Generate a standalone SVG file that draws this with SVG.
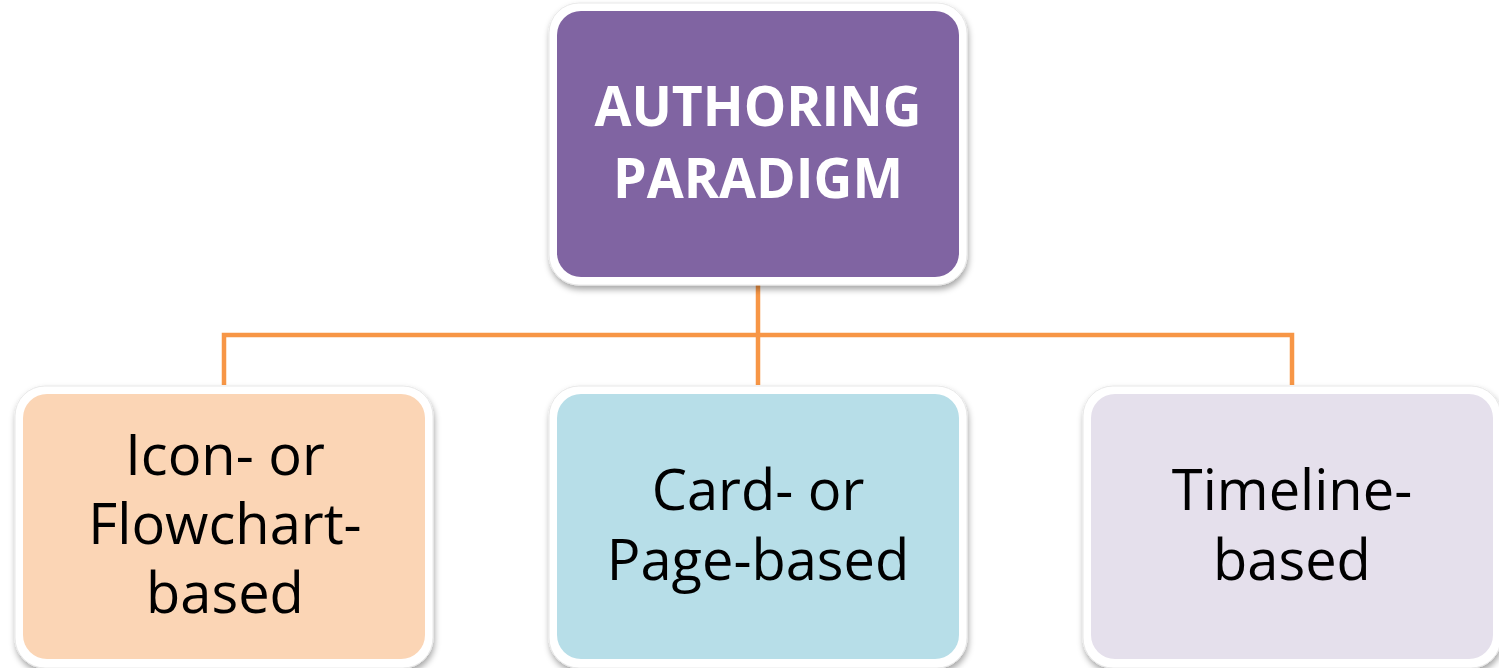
<svg xmlns="http://www.w3.org/2000/svg" width="1499" height="668" viewBox="0 0 1499 668">
<defs>
<filter id="sh" x="-10%" y="-10%" width="120%" height="125%">
<feDropShadow dx="1" dy="4" stdDeviation="3" flood-color="#000" flood-opacity="0.35"/>
</filter>
<style>
.frame{fill:#fff;stroke:#e8e8e8;stroke-width:1;filter:url(#sh)}
.conn{fill:none;stroke:#F79646;stroke-width:4.5}
.t{font-family:"Open Sans","Noto Sans","Liberation Sans",sans-serif;text-anchor:middle}
.top{fill:#fff;font-weight:bold;font-size:56px}
.sub{fill:#000;font-size:56px}
</style>
</defs>
<g id="connectors">
<path class="conn" d="M758 280 V385"/>
<path class="conn" d="M224 385 V335 H1292 V385"/>
</g>
<g id="root">
<rect class="frame" x="549" y="3" width="418" height="282" rx="30"/>
<rect x="557" y="11" width="402" height="266" rx="24" fill="#8064A2"/>
<text class="t top" x="758" y="126" textLength="327" lengthAdjust="spacingAndGlyphs">AUTHORING</text>
<text class="t top" x="758" y="198" textLength="290" lengthAdjust="spacingAndGlyphs">PARADIGM</text>
</g>
<g id="icon">
<rect class="frame" x="15" y="386" width="418" height="282" rx="30"/>
<rect x="23" y="394" width="402" height="265" rx="24" fill="#FBD5B5"/>
<text class="t sub" x="225" y="475">Icon- or</text>
<text class="t sub" x="225" y="544">Flowchart-</text>
<text class="t sub" x="225" y="613">based</text>
</g>
<g id="card">
<rect class="frame" x="549" y="386" width="418" height="282" rx="30"/>
<rect x="557" y="394" width="402" height="265" rx="24" fill="#B7DEE8"/>
<text class="t sub" x="758" y="510">Card- or</text>
<text class="t sub" x="758" y="580">Page-based</text>
</g>
<g id="timeline">
<rect class="frame" x="1083" y="386" width="418" height="282" rx="30"/>
<rect x="1091" y="394" width="402" height="265" rx="24" fill="#E5E0EC"/>
<text class="t sub" x="1292" y="510">Timeline-</text>
<text class="t sub" x="1292" y="580">based</text>
</g>
</svg>
